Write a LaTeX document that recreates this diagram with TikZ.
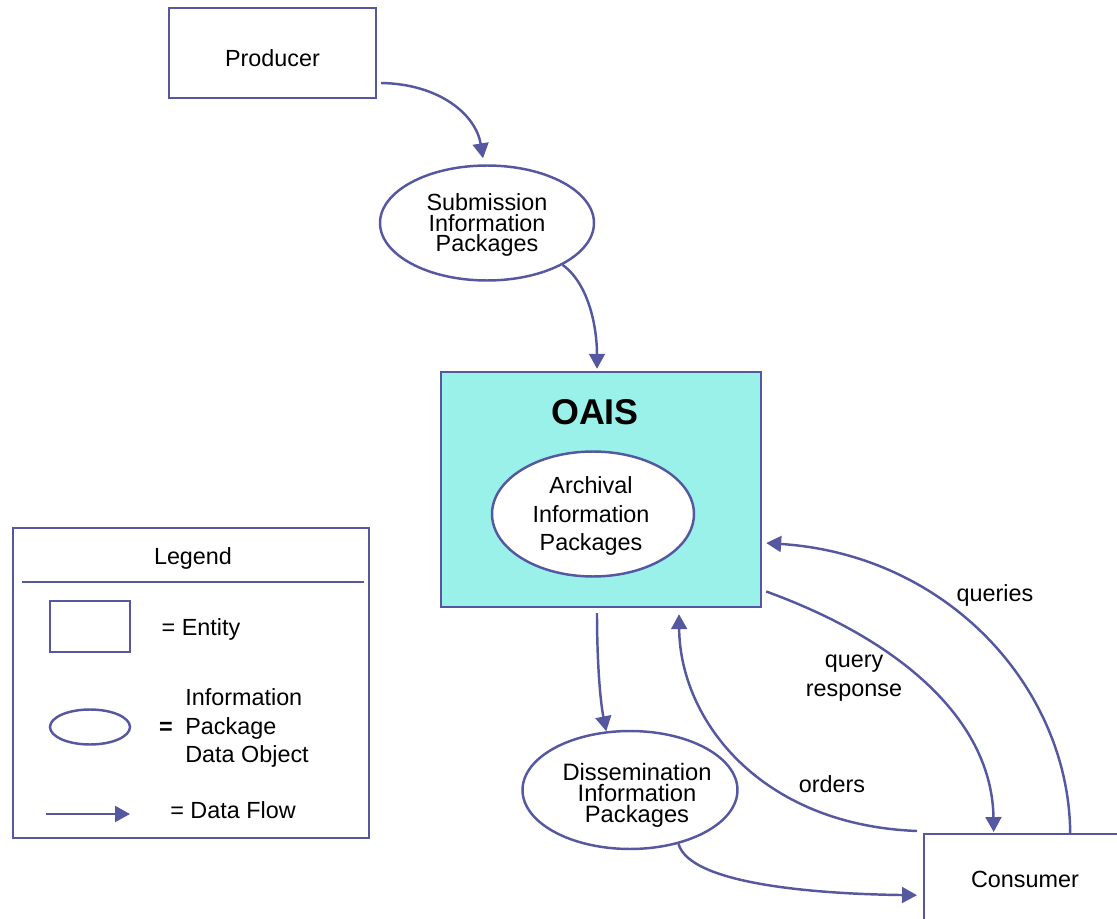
\documentclass[tikz,border=0pt]{standalone}
\usepackage{fontspec}
\setmainfont{Liberation Sans}
\usetikzlibrary{shapes.geometric,arrows.meta,calc}
\definecolor{edge}{RGB}{85,88,160}
\definecolor{oaisfill}{RGB}{153,241,234}
\tikzset{
  txt/.style={font=\fontsize{13.3}{16.4}\selectfont, inner sep=0pt, align=center},
  ent/.style={draw=edge, line width=1.4pt, fill=white, inner sep=0pt},
  pkg/.style={ellipse, draw=edge, line width=1.4pt, fill=white, inner sep=0pt},
  flow/.style={draw=edge, line width=1.4pt, -{Triangle[length=8.5pt,width=9pt]}},
  plain/.style={draw=edge, line width=1.4pt}
}
\begin{document}
\begin{tikzpicture}[x=0.02cm,y=-0.02cm]
\useasboundingbox (0,0) rectangle (1117,919);
\clip (0,0) rectangle (1117,919);
\fill[white] (0,0) rectangle (1117,919);

% entities and packages
\node[ent, minimum width=4.14cm, minimum height=1.8cm] (prod) at (272.5,53) {};
\node[txt] (prodt) at (272.5,58) {Producer};
\node[pkg, minimum width=4.28cm, minimum height=2.3cm] (sip) at (487,223) {};
\node[txt, font=\fontsize{13.3}{11.6}\selectfont] (sipt) at (487,225) {Submission\\Information\\Packages};
\node[ent, fill=oaisfill, minimum width=6.4cm, minimum height=4.7cm] (oais) at (601,489.5) {};
\node[txt, font=\fontsize{20.4}{24}\selectfont\bfseries] (oaist) at (595,412) {OAIS};
\node[pkg, minimum width=4.04cm, minimum height=2.5cm] (aip) at (593,514) {};
\node[txt] (aipt) at (591,516) {Archival\\Information\\Packages};
\node[pkg, minimum width=4.3cm, minimum height=2.36cm] (dip) at (630,790) {};
\node[txt, font=\fontsize{13.5}{11.9}\selectfont] (dipt) at (637,795) {Dissemination\\Information\\Packages};
\node[ent, minimum width=4.1cm, minimum height=2cm, anchor=north west] (cons) at (923,833) {};
\node[txt] (const) at (1025,879) {Consumer};

% flows
\draw[flow] ($(prod.east)+(4,30)$) .. controls (440,84) and (476,115) .. ($(sip.north)+(-4,-6)$);
\draw[flow] (sip.-29) .. controls (590,285) and (597,330) .. ($(oais.north)+(-4,-2)$);
\draw[flow] ($(oais.south)+(-4,5)$) .. controls (597,660) and (600,700) .. (dip.112);
\draw[flow] (dip.-48) .. controls (690,885) and (820,894) .. ($(cons.west)+(-6,11)$);
\draw[flow] ($(cons.north west)+(-6,-2)$) .. controls (760,825) and (680,720) .. ($(oais.south)+(78,6)$);
\draw[flow] ($(oais.east)+(4,102)$) .. controls (900,640) and (992,720) .. ($(cons.north)+(-33,-1)$);
\draw[flow] ($(cons.north)+(43.5,0)$) .. controls (1069,690) and (950,555) .. ($(oais.east)+(4,53.5)$);

% flow labels
\node[txt] (lq) at (995,595) {queries};
\node[txt] (lqr) at (854,678) {query\\response};
\node[txt] (lo) at (832,784) {orders};

% legend
\node[ent, minimum width=7.12cm, minimum height=6.2cm] (leg) at (191,683) {};
\node[txt] (legt) at (193,558) {Legend};
\coordinate (l1) at (22,582);
\coordinate (l2) at (364,582);
\draw[plain] (l1) -- (l2);
\node[ent, minimum width=1.6cm, minimum height=1.02cm] (lent) at (90,626.5) {};
\node[txt] (lentt) at (201,629) {= Entity};
\node[pkg, minimum width=1.6cm, minimum height=0.7cm] (lpkg) at (90,727) {};
\node[txt, font=\fontsize{13.3}{16.4}\selectfont\bfseries] (leq) at (166,728) {=};
\node[txt, align=left, anchor=west] (lpkgt) at (185,728) {Information\\Package\\Data Object};
\coordinate (la) at (46,814);
\coordinate (lb) at (130,814);
\draw[flow] (la) -- (lb);
\node[txt] (lflow) at (233,810) {= Data Flow};
\end{tikzpicture}
\end{document}
